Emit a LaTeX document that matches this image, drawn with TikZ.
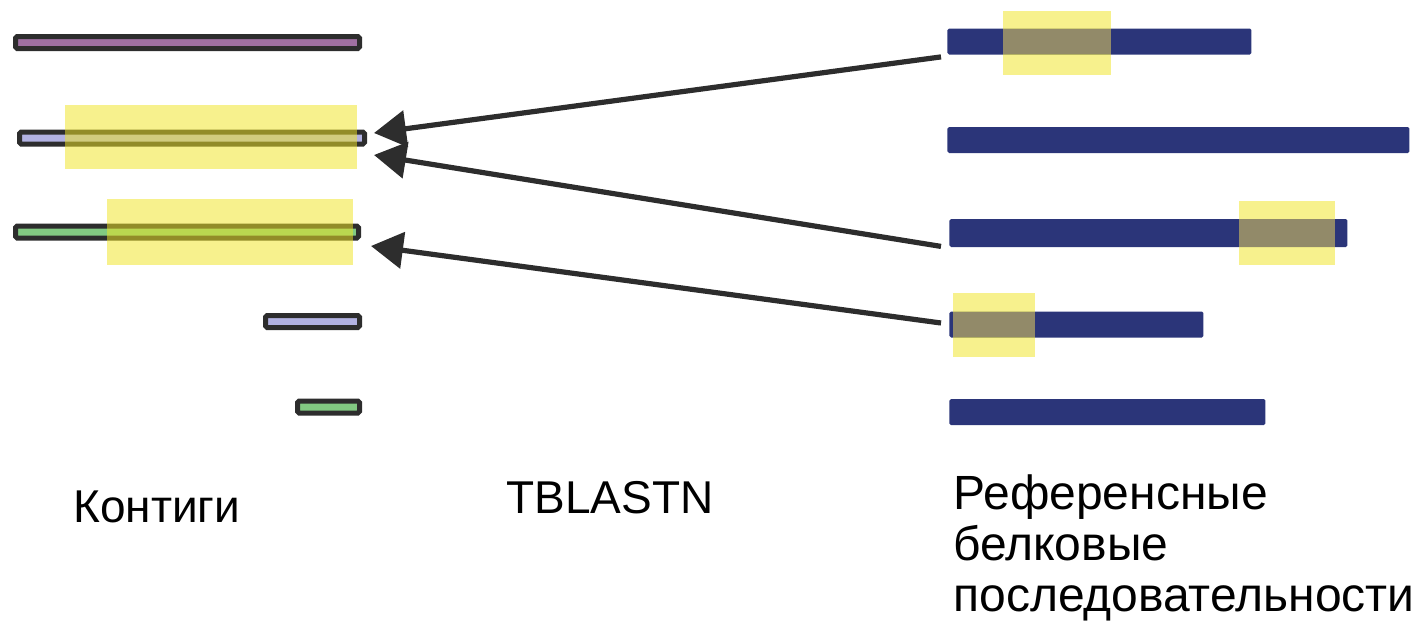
\documentclass[tikz,border=0pt]{standalone}
\usepackage{fontspec}
\setmainfont{Liberation Sans}
\definecolor{barblue}{RGB}{43,53,121}
\definecolor{rimgray}{RGB}{45,45,45}
\definecolor{hityellow}{RGB}{239,228,36}
\definecolor{hitover}{RGB}{146,138,105}
\definecolor{plum}{RGB}{160,112,162}
\definecolor{lavender}{RGB}{178,178,226}
\definecolor{leaf}{RGB}{130,202,130}
\usetikzlibrary{arrows.meta, positioning}

\begin{document}
\begin{tikzpicture}[x=0.5pt, y=-0.5pt,
  contig/.style={draw=rimgray, line width=2.5pt, inner sep=0pt, minimum height=6pt, rounded corners=0.8pt, anchor=west},
  refbar/.style={fill=barblue, inner sep=0pt, minimum height=13pt, rounded corners=0.8pt, anchor=west},
  hit/.style={fill=hityellow, fill opacity=0.52},
  hitarrow/.style={draw=rimgray, line width=2.6pt, -{Triangle[length=16pt, width=18pt]}},
  txt/.style={font=\fontsize{23}{26}\selectfont, inner sep=0pt}]

\useasboundingbox (0,0) rectangle (1421,622);

% --- Contigs (left column) ---
\node[contig, fill=plum, minimum width=172pt] (c1) at (13,42.5) {};
\node[contig, fill=lavender, minimum width=172.5pt] (c2) at (17,138) {};
\node[contig, fill=leaf, minimum width=171.5pt] (c3) at (13,232) {};
\node[contig, fill=lavender, minimum width=47pt] (c4) at (263,321.5) {};
\node[contig, fill=leaf, minimum width=31pt] (c5) at (295,407) {};

% --- Reference proteins (right column) ---
\node[refbar, minimum width=152pt] (r1) at (947,41.5) {};
\node[refbar, minimum width=231pt] (r2) at (947,140) {};
\node[refbar, minimum width=199pt, minimum height=14pt] (r3) at (949,233) {};
\node[refbar, minimum width=127pt] (r4) at (949,324.5) {};
\node[refbar, minimum width=158pt] (r5) at (949,412) {};

% --- Hit regions (semi-transparent) ---
\fill[hit] (65,105) rectangle (357,169);
\fill[hit] (107,199) rectangle (353,265);
\fill[hit] (1003,11) rectangle (1111,75);
\fill[hit] (1239,201) rectangle (1335,265);
\fill[hit] (953,293) rectangle (1035,357);
% where a hit covers a protein bar
\fill[hitover] (1003,29) rectangle (1111,54);
\fill[hitover] (1239,219) rectangle (1335,247);
\fill[hitover] (953,312) rectangle (1035,337);

% --- TBLASTN hits: protein -> contig ---
\coordinate (s1) at ([shift={(-6,2)}]r1.south west);
\coordinate (s2) at ([shift={(-8,-1)}]r3.south west);
\coordinate (s3) at ([shift={(-8,-1.5)}]r4.west);
\coordinate (t1) at ([shift={(7,-5)}]c2.east);
\coordinate (t2) at ([shift={(7,17)}]c2.east);
\coordinate (t3) at ([shift={(10,14)}]c3.east);
\draw[hitarrow] (s1) -- (t1);
\draw[hitarrow] (s2) -- (t2);
\draw[hitarrow] (s3) -- (t3);

% --- Column captions ---
\node[txt, anchor=base west] (contigs) at (73,522) {Контиги};
\node[txt, anchor=base west] (tool) at (506,513) {TBLASTN};
\node[txt, font=\fontsize{24}{25.5}\selectfont, anchor=north west, align=left] (refs) at (953,474) {Референсные\\белковые\\последовательности};

\end{tikzpicture}
\end{document}
